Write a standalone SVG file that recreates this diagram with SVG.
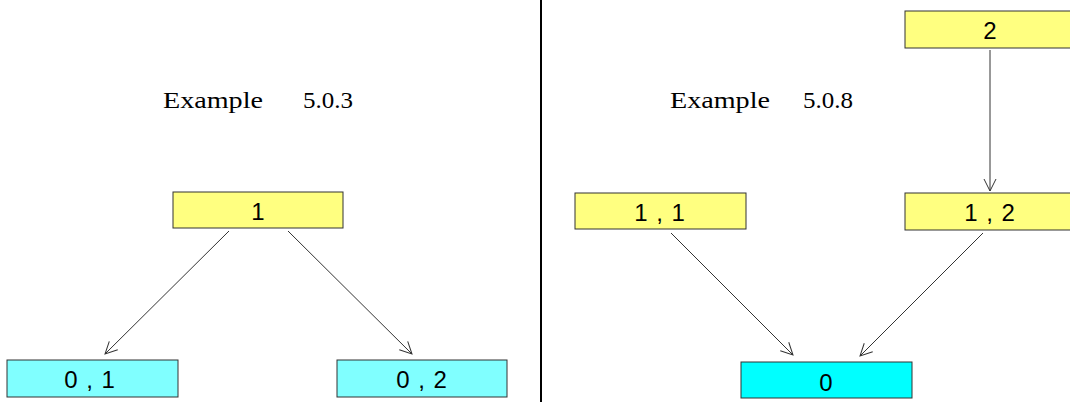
<svg xmlns="http://www.w3.org/2000/svg" width="1070" height="402" viewBox="0 0 1070 402">
<style>
.y{fill:#ffff80;stroke:#333;stroke-width:1}
.c{fill:#80ffff;stroke:#333;stroke-width:1}
.c2{fill:#00ffff;stroke:#333;stroke-width:1}
.t{font-family:"Liberation Sans",Arial,sans-serif;font-size:24px;fill:#000;text-anchor:middle}
.h{font-family:"Liberation Serif","Times New Roman",serif;font-size:23px;fill:#000}
.e{stroke:#333;stroke-width:1;fill:none;marker-end:url(#a)}
</style>
<defs>
<marker id="a" markerWidth="16" markerHeight="16" refX="14" refY="8" orient="auto" markerUnits="userSpaceOnUse">
<path d="M2,2 L14,8 L2,14" fill="none" stroke="#333" stroke-width="1"/>
</marker>
</defs>
<rect width="1070" height="402" fill="#fff"/>
<line x1="541" y1="0" x2="541" y2="402" stroke="#000" stroke-width="2"/>
<text class="h" x="163" y="108" textLength="100" lengthAdjust="spacingAndGlyphs">Example</text>
<text class="h" x="303" y="108" textLength="50" lengthAdjust="spacingAndGlyphs">5.0.3</text>
<text class="h" x="670" y="108" textLength="100" lengthAdjust="spacingAndGlyphs">Example</text>
<text class="h" x="803" y="108" textLength="50" lengthAdjust="spacingAndGlyphs">5.0.8</text>
<g id="connectors">
<line class="e" x1="229" y1="231" x2="105" y2="354"/>
<line class="e" x1="288" y1="231" x2="412" y2="354"/>
<line class="e" x1="990" y1="50" x2="990" y2="191"/>
<line class="e" x1="671" y1="233" x2="793" y2="355"/>
<line class="e" x1="983" y1="233" x2="860" y2="356"/>
</g>
<g id="n1"><rect class="y" x="173" y="192" width="170" height="36"/><text class="t" x="258" y="220">1</text></g>
<g id="n01"><rect class="c" x="7" y="360" width="171" height="37"/><text class="t" x="90" y="388" letter-spacing="1">0 , 1</text></g>
<g id="n02"><rect class="c" x="337" y="360" width="170" height="37"/><text class="t" x="422" y="388" letter-spacing="1">0 , 2</text></g>
<g id="n2"><rect class="y" x="905" y="11" width="170" height="37"/><text class="t" x="990" y="39">2</text></g>
<g id="n11"><rect class="y" x="575" y="193" width="171" height="36"/><text class="t" x="660" y="221" letter-spacing="1">1 , 1</text></g>
<g id="n12"><rect class="y" x="905" y="193" width="170" height="37"/><text class="t" x="990" y="221" letter-spacing="1">1 , 2</text></g>
<g id="n0"><rect class="c2" x="741" y="362" width="171" height="36"/><text class="t" x="826" y="391">0</text></g>
</svg>
